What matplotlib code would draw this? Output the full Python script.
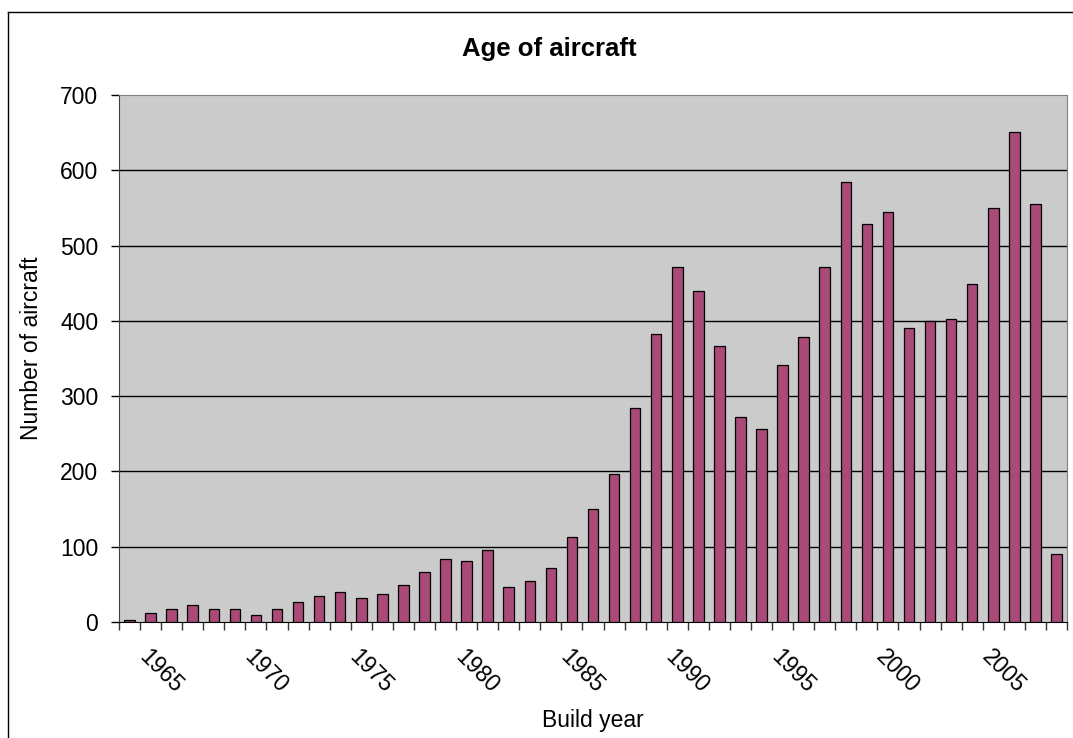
import numpy as np
import matplotlib.pyplot as plt
from matplotlib.lines import Line2D

plt.rcParams['font.family'] = ['Liberation Sans', 'DejaVu Sans']

years = list(range(1964, 2009))
counts = [3, 12, 17, 23, 17, 17, 9, 17, 26, 34, 40, 32, 37, 49, 66, 84, 81, 96, 46, 55, 72, 113,
          150, 196, 284, 382, 471, 440, 367, 272, 257, 341, 379, 471, 584, 529, 544, 390, 400, 402,
          449, 550, 651, 555, 90]
shown_years = [1965, 1970, 1975, 1980, 1985, 1990, 1995, 2000, 2005]

W, H = 1073, 738
fig = plt.figure(figsize=(W/100, H/100), dpi=100)
ax = fig.add_axes([119/W, (H-622)/H, 948/W, 527/H])

# chart area border (only top and left visible)
fig.add_artist(Line2D([8/W, 1], [1-12/H, 1-12/H], color='black', lw=1))
fig.add_artist(Line2D([8/W, 8/W], [0, 1-12/H], color='black', lw=1))

x = np.arange(len(years))
ax.set_facecolor('#CBCBCB')
ax.bar(x, counts, width=0.5, color='#A94A78', edgecolor='black', linewidth=0.9, zorder=3)

ax.set_xlim(-0.5, len(years)-0.5)
ax.set_ylim(0, 700)
ax.set_yticks(range(0, 701, 100))
for v in range(100, 700, 100):
    ax.axhline(v, color='black', lw=1, zorder=1)

ax.set_xticks([years.index(y) for y in shown_years])
ax.set_xticklabels([str(y) for y in shown_years])
ax.set_xticks(np.arange(-0.5, len(years)), minor=True)
ax.tick_params(axis='x', which='major', length=0, pad=17, labelsize=16.5)
ax.tick_params(axis='x', which='minor', length=6, width=1, color='#333333')
ax.tick_params(axis='y', length=6, width=1, pad=9, labelsize=16.5)
plt.setp(ax.get_xticklabels(), rotation=-45, ha='left', va='top', rotation_mode='anchor')

for s in ['top', 'right']:
    ax.spines[s].set_color('#808080')
ax.spines['left'].set_color('#404040')
ax.spines['bottom'].set_color('black')

fig.text(549/W, 1-49/H, 'Age of aircraft', fontsize=18.5, fontweight='bold', ha='center', va='center')
ax.set_xlabel('Build year', fontsize=16.5)
ax.xaxis.set_label_coords(0.5, -(720-622)/527)
ax.xaxis.label.set_va('center')
ax.set_ylabel('Number of aircraft', fontsize=16.5)
ax.yaxis.set_label_coords(-(119-32)/948, 0.52)
ax.yaxis.label.set_va('center')

plt.savefig('out.png', dpi=100)
